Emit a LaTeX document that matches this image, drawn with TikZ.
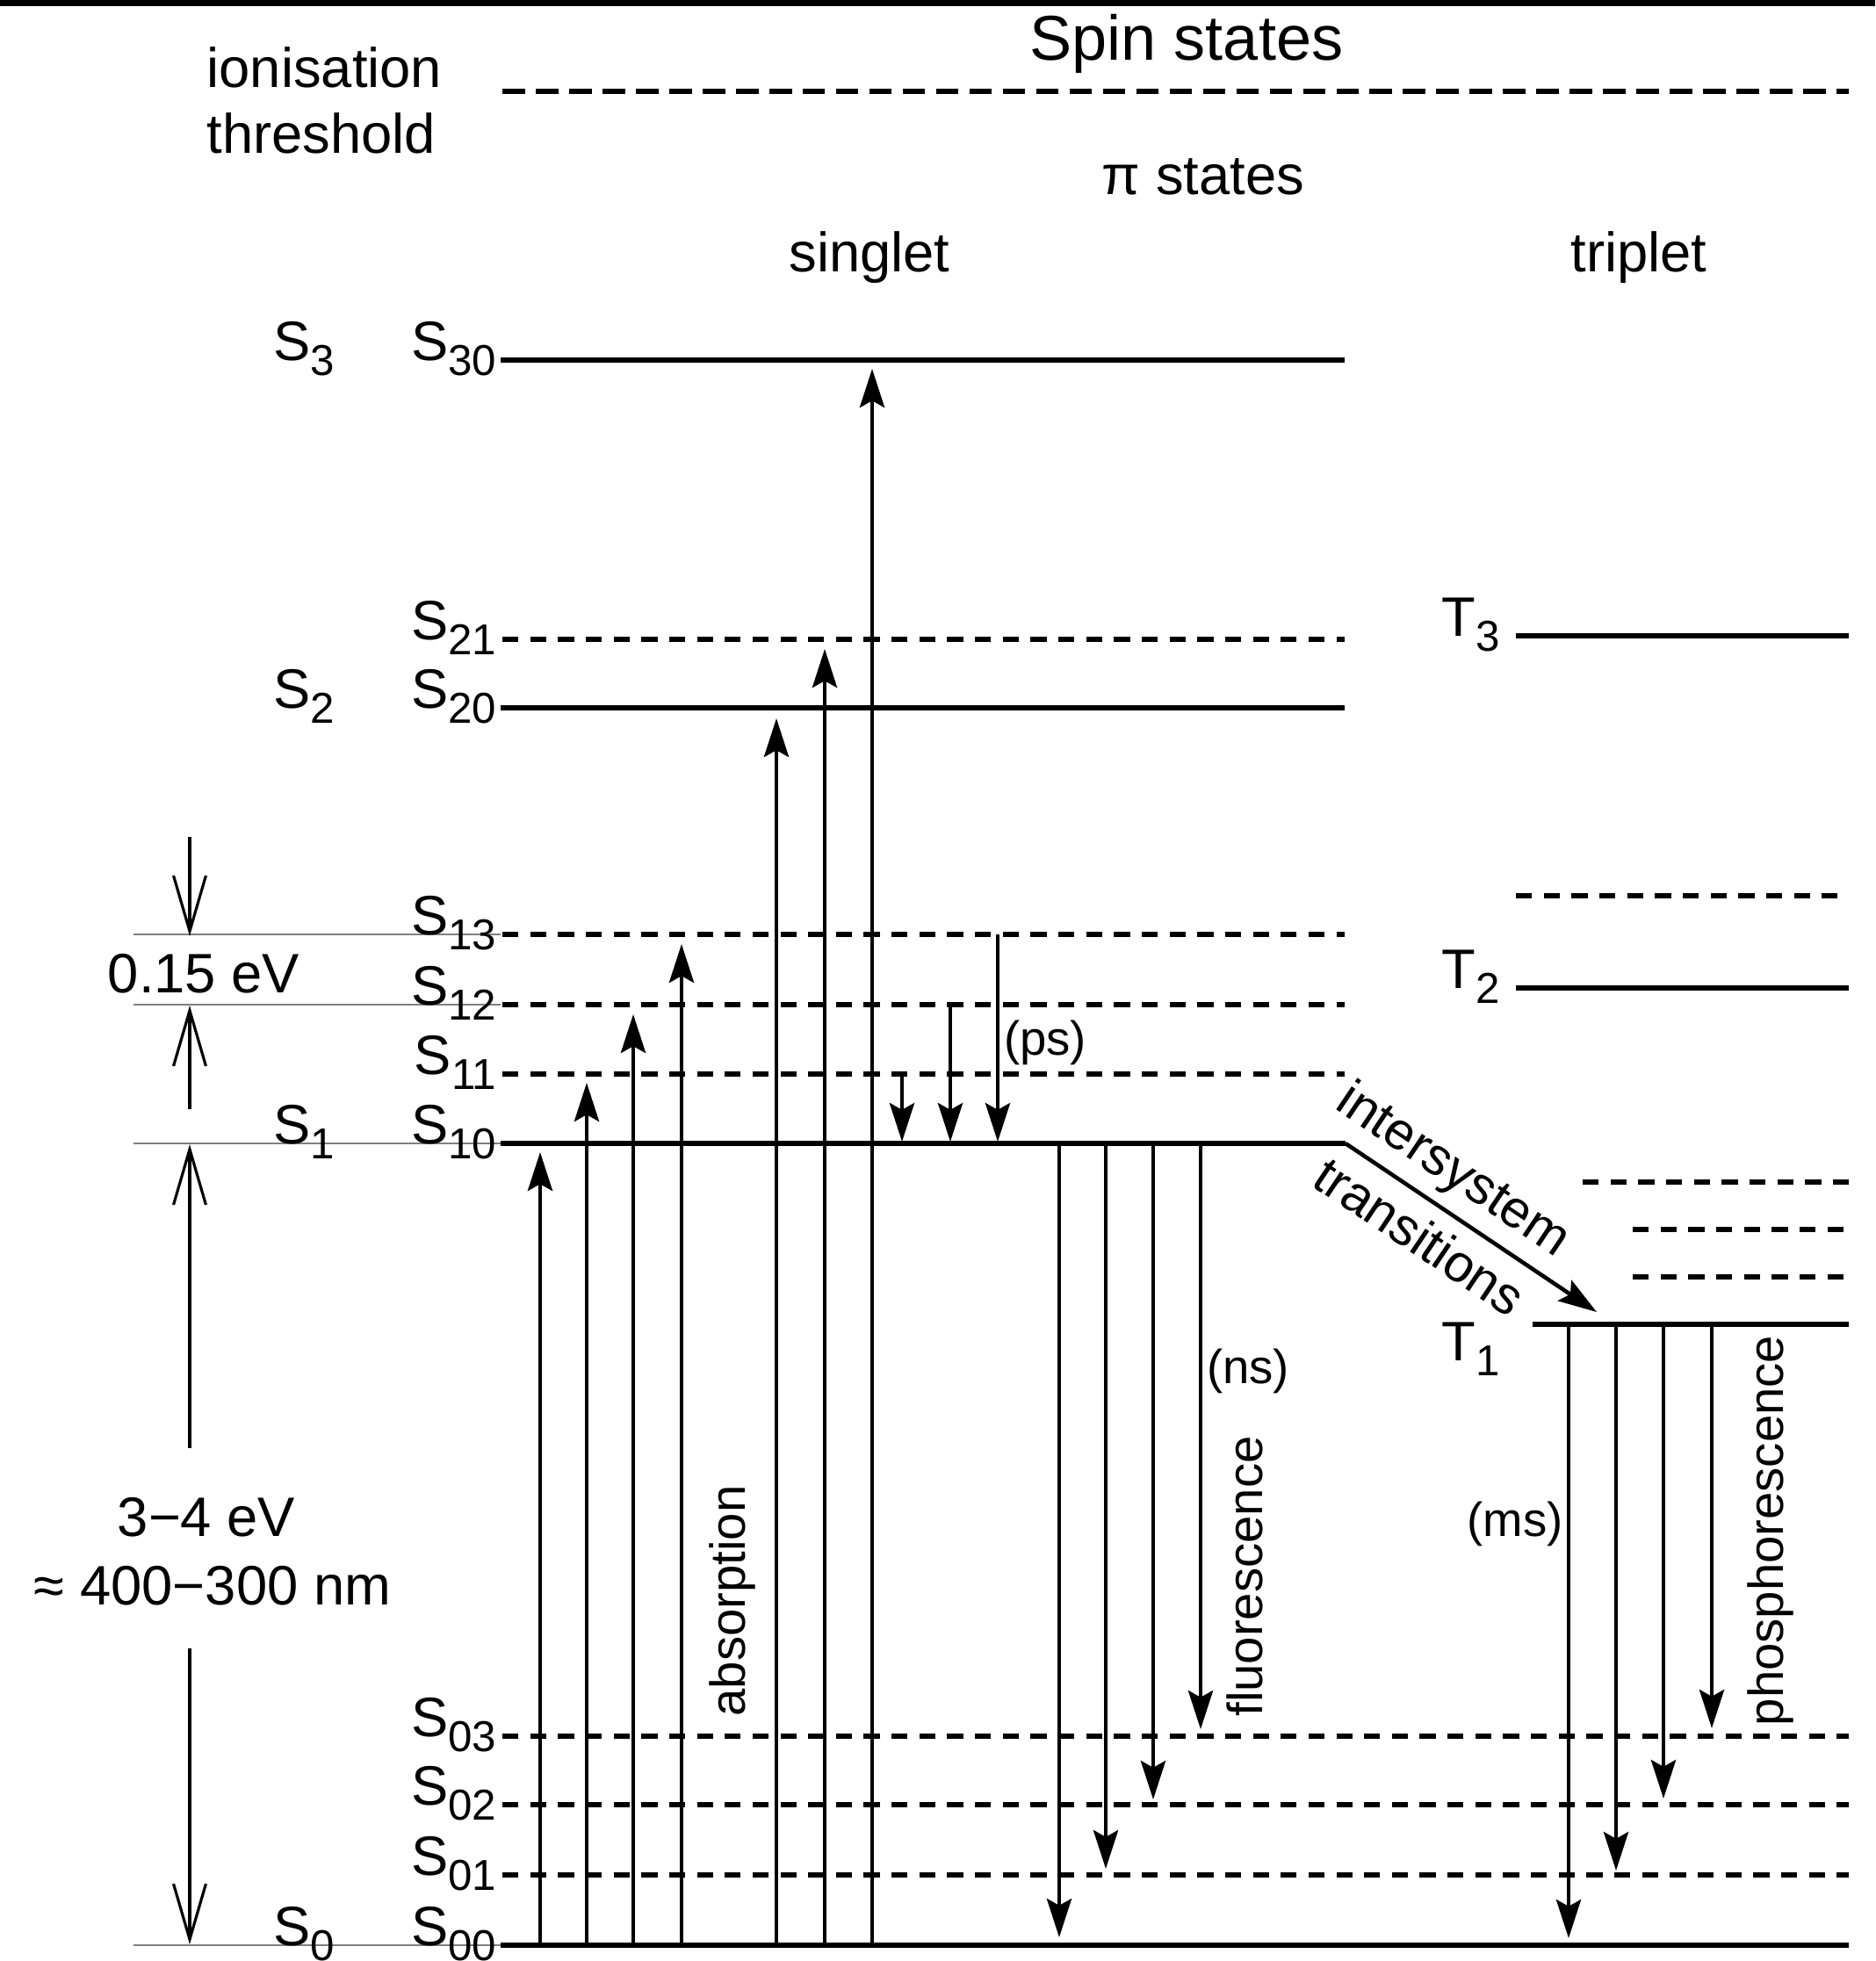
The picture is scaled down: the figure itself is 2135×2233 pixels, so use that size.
\documentclass[tikz,border=0pt]{standalone}
\usepackage{fontspec}
\setmainfont{Liberation Sans}
\usetikzlibrary{arrows.meta}
\newcommand{\lvlab}[2]{#1\raisebox{-5pt}{\fontsize{14}{14}\selectfont #2}}
\begin{document}
\begin{tikzpicture}[x=0.01cm, y=-0.01cm, font=\fontsize{18}{21}\selectfont,
  lvl/.style={line width=1.7pt},
  dlvl/.style={line width=1.8pt, dash pattern=on 5.2pt off 3.8pt},
  ionl/.style={line width=1.8pt, dash pattern=on 7.3pt off 3.5pt},
  arr/.style={line width=1.3pt, -{Stealth[length=12.5pt,width=8pt,inset=2.2pt]}},
  guide/.style={line width=0.7pt, gray},
  earr/.style={line width=0.9pt, -{Straight Barb[length=18pt,width=10.5pt]}},
  lbl/.style={inner sep=0pt},
  small/.style={font=\fontsize{15.5}{18}\selectfont},
  rot/.style={font=\fontsize{16}{19}\selectfont, rotate=90, anchor=base, inner sep=0pt}]
\useasboundingbox (0,0) rectangle (2135,2233);
\fill (0,0) rectangle (2135,7);
% guide lines
\foreach \y in {1064,1144,1302,2215} \draw[guide] (152,\y) -- (570,\y);
% levels
\draw[ionl] (572,104) -- (2105,104);
\draw[lvl] (570,410) -- (1531,410);
\draw[dlvl] (572,728) -- (1531,728);
\draw[lvl] (570,806) -- (1531,806);
\foreach \y in {1064,1144,1223} \draw[dlvl] (572,\y) -- (1531,\y);
\draw[lvl] (570,1302) -- (1532,1302);
\foreach \y in {1977,2055,2135} \draw[dlvl] (572,\y) -- (2105,\y);
\draw[lvl] (570,2215) -- (2105,2215);
\draw[lvl] (1726,724) -- (2105,724);
\draw[dlvl] (1726,1020) -- (2100,1020);
\draw[lvl] (1726,1125) -- (2105,1125);
\draw[dlvl] (1802,1346) -- (2105,1346);
\draw[dlvl] (1859,1400) -- (2105,1400);
\draw[dlvl] (1859,1454) -- (2105,1454);
\draw[lvl] (1745,1508) -- (2105,1508);
% absorption
\foreach \x/\t in {615/1312, 668/1233, 721/1155, 776/1075, 884/818, 939/739, 993/420}
  \draw[arr] (\x,2215) -- (\x,\t);
% relaxation
\foreach \x/\s in {1027/1223, 1082/1144, 1136/1064}
  \draw[arr] (\x,\s) -- (\x,1300);
% fluorescence
\foreach \x/\t in {1206/2206, 1259/2128, 1313/2049, 1367/1969}
  \draw[arr] (\x,1302) -- (\x,\t);
% phosphorescence
\foreach \x/\t in {1786/2207, 1840/2130, 1894/2048, 1949/1968}
  \draw[arr] (\x,1508) -- (\x,\t);
% intersystem
\draw[arr] (1532,1302) -- (1818,1494);
% energy arrows
\draw[earr] (216,953) -- (216,1066);
\draw[earr] (216,1263) -- (216,1145);
\draw[earr] (216,1649) -- (216,1303);
\draw[earr] (216,1877) -- (216,2214);
% texts
\node[lbl, anchor=base west] (ion1) at (235,100) {ionisation};
\node[lbl, anchor=base west] (ion2) at (235,174) {threshold};
\node[lbl, anchor=base, font=\fontsize{20.5}{24}\selectfont] (spin) at (1351,68) {Spin states};
\node[lbl, anchor=base] (pi) at (1370,221) {π states};
\node[lbl, anchor=base] (sing) at (990,309) {singlet};
\node[lbl, anchor=base] (trip) at (1866,309) {triplet};
% level labels
\foreach \n/\y in {30/410, 21/728, 20/806, 13/1064, 12/1144, 11/1223, 10/1302, 03/1977, 02/2055, 01/2135, 00/2215}
  \node[lbl, anchor=base east] (s\n) at (566,\y) {\lvlab{S}{\n}};
\foreach \n/\y in {3/410, 2/806, 1/1302, 0/2215}
  \node[lbl, anchor=base west] (b\n) at (311,\y) {\lvlab{S}{\n}};
\node[lbl, anchor=base west] (t3) at (1641,724) {\lvlab{T}{3}};
\node[lbl, anchor=base west] (t2) at (1641,1125) {\lvlab{T}{2}};
\node[lbl, anchor=base west] (t1) at (1641,1549) {\lvlab{T}{1}};
% annotations
\node[lbl, anchor=base] (e015) at (232,1130) {0.15 eV};
\node[lbl, anchor=base] (e34) at (235,1749) {3−4 eV};
\node[lbl, anchor=base] (nm) at (242,1827) {≈ 400−300 nm};
\node[lbl, small] (ps) at (1190,1187) {(ps)};
\node[lbl, small] (ns) at (1421,1561) {(ns)};
\node[lbl, small] (ms) at (1725,1735) {(ms)};
\node[rot] (abs) at (848,1823) {absorption};
\node[rot] (flu) at (1437,1795) {fluorescence};
\node[rot] (pho) at (2030,1743) {phosphorescence};
\node[lbl, anchor=base, rotate=-33.9, font=\fontsize{17}{20}\selectfont] (isys) at (1645,1347) {intersystem};
\node[lbl, anchor=base, rotate=-33.9, font=\fontsize{17}{20}\selectfont] (itra) at (1605,1425) {transitions};
\end{tikzpicture}
\end{document}
